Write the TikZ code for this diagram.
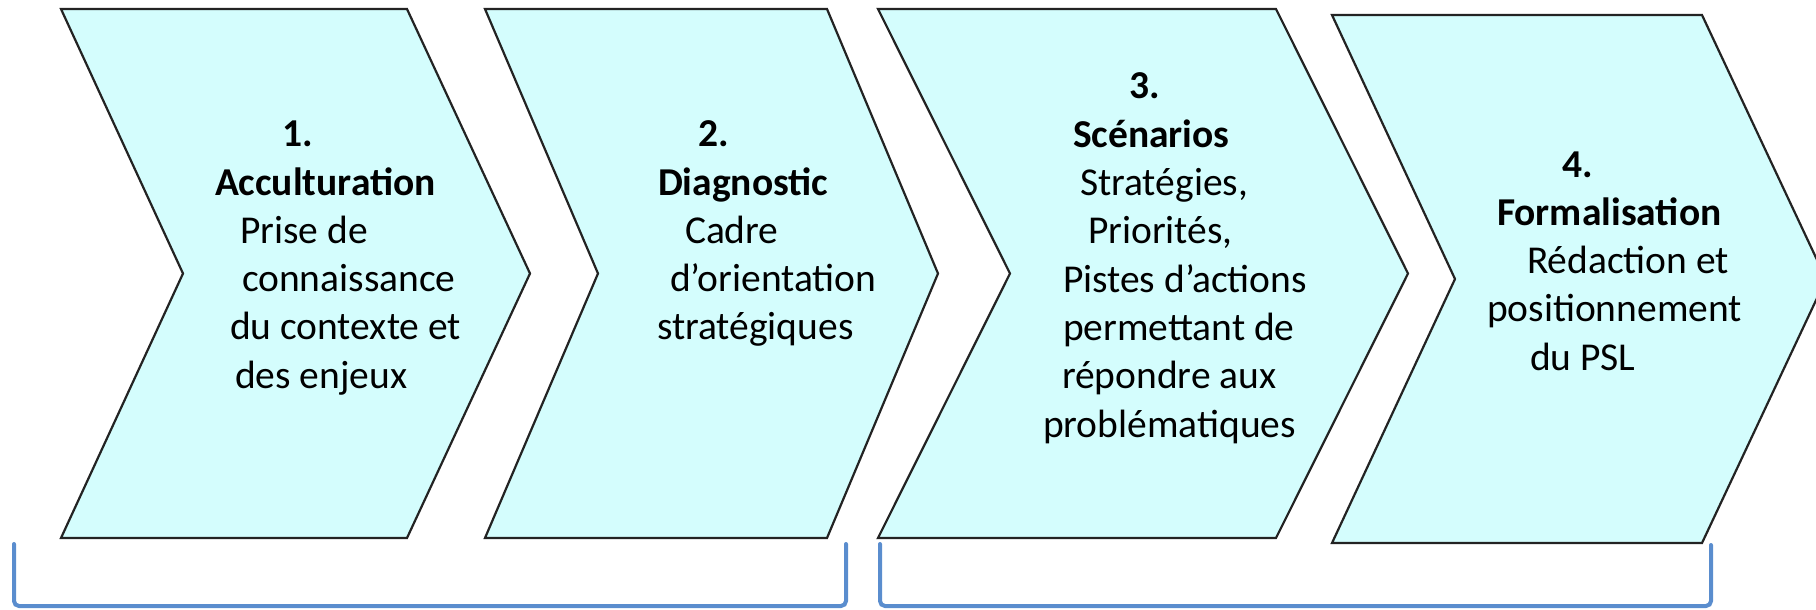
\documentclass[tikz,border=0pt]{standalone}
\usepackage{fontspec}
\setmainfont{Carlito}
\definecolor{chevfill}{RGB}{212,253,253}
\definecolor{chevline}{RGB}{35,35,35}
\definecolor{brackblue}{RGB}{90,141,206}
\tikzset{
  chev/.style={fill=chevfill, draw=chevline, line width=2.2pt, line join=miter},
  brack/.style={draw=brackblue, line width=4pt, rounded corners=5pt, line cap=round},
  txt/.style={anchor=base west, inner sep=0pt, outer sep=0pt, text=black,
    font=\fontsize{39.5}{48.3}\selectfont}
}
\newcommand\tline[2]{\hbox{\hskip#1pt\relax #2}}
\newcommand\tstack[1]{\vtop{\baselineskip=48.3pt\lineskiplimit=-100pt #1}}
\begin{document}
\begin{tikzpicture}[x=1pt,y=-1pt]
\useasboundingbox (0,0) rectangle (1816,610);
% chevrons
\draw[chev] (61,9) -- (407,9) -- (530,273.5) -- (407,538) -- (61,538) -- (183,273.5) -- cycle;
\draw[chev] (485,9) -- (827,9) -- (938,273.5) -- (827,538) -- (485,538) -- (598,273.5) -- cycle;
\draw[chev] (878,9) -- (1276,9) -- (1408,273.5) -- (1276,538) -- (878,538) -- (1010,273.5) -- cycle;
\draw[chev] (1332,15) -- (1702,15) -- (1826,279) -- (1702,543) -- (1332,543) -- (1455,279) -- cycle;
% texts
\node[txt] (t1) at (215,146.7) {\tstack{%
  \tline{67}{\bfseries 1.}
  \tline{0}{\bfseries Acculturation}
  \tline{25}{Prise de}
  \tline{27}{connaissance}
  \tline{15}{du contexte et}
  \tline{20}{des enjeux}}};
\node[txt] (t2) at (657,146.7) {\tstack{%
  \tline{41}{\bfseries 2.}
  \tline{1}{\bfseries Diagnostic}
  \tline{28}{Cadre}
  \tline{13}{d’orientation}
  \tline{0}{stratégiques}}};
\node[txt] (t3) at (1043,99) {\tstack{%
  \tline{86}{\bfseries 3.}
  \tline{30}{\bfseries Scénarios}
  \tline{37}{Stratégies,}
  \tline{45}{Priorités,}
  \tline{20}{Pistes d’actions}
  \tline{20}{permettant de}
  \tline{19}{répondre aux}
  \tline{0}{problématiques}}};
\node[txt] (t4) at (1487,177) {\tstack{%
  \tline{75}{\bfseries 4.}
  \tline{10}{\bfseries Formalisation}
  \tline{40}{Rédaction et}
  \tline{0}{positionnement}
  \tline{43}{du PSL}}};
% brackets
\coordinate (b1a) at (14,544);
\coordinate (b1b) at (14,606);
\coordinate (b1c) at (846,606);
\coordinate (b1d) at (846,544);
\coordinate (b2a) at (880,544);
\coordinate (b2b) at (880,606);
\coordinate (b2c) at (1711,606);
\coordinate (b2d) at (1711,545);
\draw[brack] (b1a) -- (b1b) -- (b1c) -- (b1d);
\draw[brack] (b2a) -- (b2b) -- (b2c) -- (b2d);
\end{tikzpicture}
\end{document}
